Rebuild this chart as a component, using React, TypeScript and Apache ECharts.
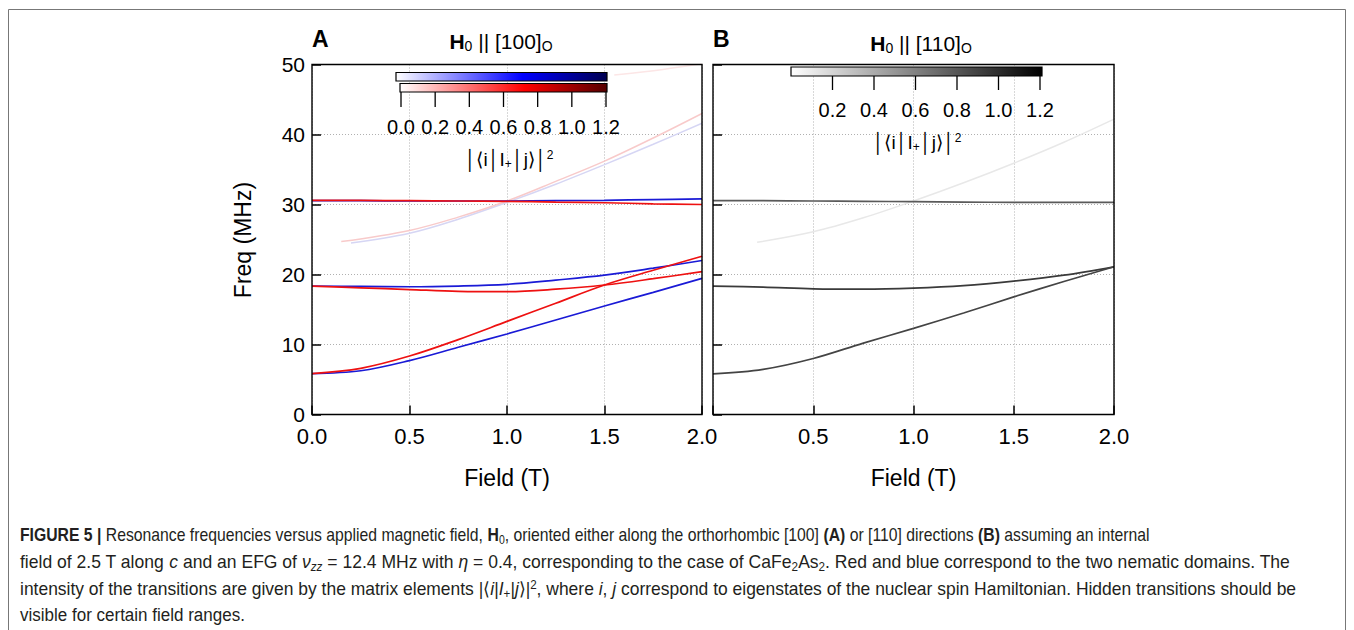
import React, { useEffect, useRef } from 'react';
import * as echarts from 'echarts';

const FONT = "'Liberation Sans', Arial, Helvetica, sans-serif";
const CAP_FONT = "'Liberation Sans Narrow', 'Liberation Sans', Arial, sans-serif";

// ---------- data ----------
const fieldT = [0, 0.25, 0.5, 0.75, 1.0, 1.25, 1.5, 1.75, 2.0];
// Panel A: H0 || [100]
const aBlueTop = [30.55, 30.55, 30.5, 30.5, 30.5, 30.55, 30.6, 30.7, 30.8];
const aRedTop = [30.6, 30.58, 30.55, 30.5, 30.45, 30.35, 30.25, 30.1, 30.0];
const aBlueMid = [18.35, 18.3, 18.25, 18.35, 18.6, 19.2, 19.9, 20.9, 22.0];
const aRedMid = [18.35, 18.1, 17.85, 17.6, 17.55, 17.9, 18.5, 19.4, 20.4];
const aBlueLow = [5.85, 6.25, 7.7, 9.6, 11.5, 13.5, 15.5, 17.45, 19.45];
const aRedLow = [5.85, 6.6, 8.35, 10.7, 13.3, 15.9, 18.5, 20.6, 22.6];
const aHiddenRedField = [0.15, 0.5, 0.75, 1.0, 1.25, 1.5, 1.75, 2.0];
const aHiddenRed = [24.7, 26.3, 28.2, 30.5, 33.3, 36.2, 39.5, 43.0];
const aHiddenBlueField = [0.2, 0.5, 0.75, 1.0, 1.25, 1.5, 1.75, 2.0];
const aHiddenBlue = [24.5, 25.9, 27.9, 30.3, 32.9, 35.7, 38.6, 41.6];
const aHiddenTopField = [1.55, 1.8, 2.0];
const aHiddenTop = [48.5, 49.3, 50.1];
// Panel B: H0 || [110]
const bTop = [30.55, 30.55, 30.5, 30.45, 30.4, 30.35, 30.3, 30.3, 30.3];
const bMid = [18.35, 18.2, 17.95, 17.9, 18.05, 18.4, 19.05, 19.9, 21.1];
const bLow = [5.8, 6.45, 8.0, 10.2, 12.3, 14.5, 16.8, 19.0, 21.1];
const bHiddenField = [0.22, 0.5, 0.75, 1.0, 1.25, 1.5, 1.75, 2.0];
const bHidden = [24.6, 26.1, 28.1, 30.5, 33.1, 35.9, 38.9, 42.2];

// colour-bar tick labels
const cbTicksA = [0.0, 0.2, 0.4, 0.6, 0.8, 1.0, 1.2];
const cbTicksB = [0.2, 0.4, 0.6, 0.8, 1.0, 1.2];

// caption lines (rich text)
const captionLines = [
  '{b|FIGURE 5 |} Resonance frequencies versus applied magnetic field, {b|H}{sub|0}, oriented either along the orthorhombic [100] {b|(A)} or [110] directions {b|(B)} assuming an internal',
  'field of 2.5 T along {i|c} and an EFG of {i|ν}{isub|zz} = 12.4 MHz with {i|η} = 0.4, corresponding to the case of CaFe{sub|2}As{sub|2}. Red and blue correspond to the two nematic domains. The',
  'intensity of the transitions are given by the matrix elements |⟨{i|i}|{i|I}{sub|+}|{i|j}⟩|{sup|2}, where {i|i}, {i|j} correspond to eigenstates of the nuclear spin Hamiltonian. Hidden transitions should be',
  'visible for certain field ranges.',
];

// ---------- layout ----------
const GA = { left: 312, top: 64.5, width: 390, height: 350 };
const GB = { left: 713, top: 64.5, width: 401, height: 350 };

const pairs = (xs: number[], ys: number[]) => xs.map((x, i) => [x, ys[i]]);

function lineSeries(xs: number[], ys: number[], color: string, width: number, gi: number, z: number) {
  return {
    type: 'line',
    xAxisIndex: gi,
    yAxisIndex: gi,
    data: pairs(xs, ys),
    showSymbol: false,
    symbol: 'none',
    smooth: 0.35,
    clip: true,
    lineStyle: { color, width },
    z,
    silent: true,
  };
}

function xAxis(gi: number, hideZero: boolean) {
  return {
    type: 'value',
    gridIndex: gi,
    min: 0,
    max: 2,
    interval: 0.5,
    axisLine: { show: false },
    axisTick: { show: true, inside: true, length: 9, lineStyle: { color: '#000', width: 1.5 } },
    axisLabel: {
      fontSize: 22,
      color: '#000',
      margin: 11,
      fontFamily: FONT,
      formatter: (v: number) => (hideZero && v === 0 ? '' : v.toFixed(1)),
    },
    splitLine: { show: true, lineStyle: { type: [1, 2], color: '#b0b0b0', width: 1 } },
  };
}

function yAxis(gi: number, showLabels: boolean) {
  return {
    type: 'value',
    gridIndex: gi,
    min: 0,
    max: 50,
    interval: 10,
    axisLine: { show: false },
    axisTick: { show: true, inside: true, length: 9, lineStyle: { color: '#000', width: 1.5 } },
    axisLabel: { show: showLabels, fontSize: 21, color: '#000', margin: 7, fontFamily: FONT },
    splitLine: { show: true, lineStyle: { type: [1, 2], color: '#b0b0b0', width: 1 } },
  };
}

const richBase = (size: number, extra: any = {}) => ({ fontFamily: FONT, fontSize: size, fill: '#000', ...extra });

function colorbarLabelRich(size: number) {
  return {
    n: richBase(size),
    s: richBase(Math.round(size * 0.65), { padding: [9, 0, 0, 0] }),
    p: richBase(Math.round(size * 0.65), { padding: [0, 0, 9, 0] }),
  };
}

function titleRich() {
  return {
    hb: richBase(21, { fontWeight: 'bold' }),
    n: richBase(21),
    s: richBase(14, { padding: [9, 0, 0, 0] }),
  };
}

function buildGraphic() {
  const g: any[] = [];
  // outer figure frame
  g.push({
    type: 'rect', silent: true, z: 0,
    shape: { x: 8.5, y: 9.5, width: 1337, height: 640 },
    style: { fill: 'none', stroke: '#777', lineWidth: 1 },
  });
  // plot frames
  [GA, GB].forEach((G) => {
    g.push({
      type: 'rect', silent: true, z: 100,
      shape: { x: G.left, y: G.top, width: G.width, height: G.height },
      style: { fill: 'none', stroke: '#000', lineWidth: 1.4 },
    });
  });
  // panel letters
  g.push({ type: 'text', x: 312, y: 39, style: { text: 'A', fontFamily: FONT, fontWeight: 'bold', fontSize: 23, fill: '#000', align: 'left', verticalAlign: 'middle' } });
  g.push({ type: 'text', x: 713, y: 39, style: { text: 'B', fontFamily: FONT, fontWeight: 'bold', fontSize: 23, fill: '#000', align: 'left', verticalAlign: 'middle' } });
  // panel titles
  g.push({ type: 'text', x: 501, y: 41, style: { text: '{hb|H}{s|0}{n| || [100]}{s|O}', align: 'center', verticalAlign: 'middle', fontFamily: FONT, fontSize: 21, fill: '#000', rich: titleRich() } });
  g.push({ type: 'text', x: 921, y: 43, style: { text: '{hb|H}{s|0}{n| || [110]}{s|O}', align: 'center', verticalAlign: 'middle', fontFamily: FONT, fontSize: 21, fill: '#000', rich: titleRich() } });

  // axis titles
  g.push({ type: 'text', x: 243, y: 240, rotation: Math.PI / 2, style: { text: 'Freq (MHz)', fontFamily: FONT, fontSize: 23, fill: '#000', align: 'center', verticalAlign: 'middle' } });
  g.push({ type: 'text', x: GA.left + GA.width / 2, y: 478, style: { text: 'Field (T)', fontFamily: FONT, fontSize: 23, fill: '#000', align: 'center', verticalAlign: 'middle' } });
  g.push({ type: 'text', x: GB.left + GB.width / 2, y: 478, style: { text: 'Field (T)', fontFamily: FONT, fontSize: 23, fill: '#000', align: 'center', verticalAlign: 'middle' } });

  // ---- colour bars, panel A ----
  const aX0 = 401, aX1 = 606; // value 0 -> 1.2
  const aScale = (aX1 - aX0) / 1.2;
  g.push({
    type: 'rect', z: 110, silent: true,
    shape: { x: 396, y: 72.5, width: aX1 - 396 + 1, height: 8.5 },
    style: {
      stroke: '#000', lineWidth: 1.2,
      fill: { type: 'linear', x: 0, y: 0, x2: 1, y2: 0, colorStops: [
        { offset: 0, color: '#ffffff' }, { offset: 0.6, color: '#0000ff' }, { offset: 1, color: '#000050' }] },
    },
  });
  g.push({
    type: 'rect', z: 110, silent: true,
    shape: { x: 400, y: 83.5, width: aX1 - 400 + 1, height: 8.5 },
    style: {
      stroke: '#000', lineWidth: 1.2,
      fill: { type: 'linear', x: 0, y: 0, x2: 1, y2: 0, colorStops: [
        { offset: 0, color: '#ffffff' }, { offset: 0.6, color: '#ff0000' }, { offset: 1, color: '#550000' }] },
    },
  });
  cbTicksA.forEach((v) => {
    const x = aX0 + v * aScale;
    g.push({ type: 'line', z: 110, silent: true, shape: { x1: x, y1: 92, x2: x, y2: 107 }, style: { stroke: '#000', lineWidth: 1.3 } });
    g.push({ type: 'text', z: 110, x, y: 127, style: { text: v.toFixed(1), fontFamily: FONT, fontSize: 20, fill: '#000', align: 'center', verticalAlign: 'middle' } });
  });
  g.push({ type: 'text', z: 110, x: 509, y: 159, style: { text: '{n|\u2502\u27E8i\u2502I}{s|+}{n|\u2502j\u27E9\u2502}{p|2}', align: 'center', verticalAlign: 'middle', fontFamily: FONT, fontSize: 19, fill: '#000', rich: colorbarLabelRich(19) } });

  // ---- colour bar, panel B ----
  const bX0 = 791, bX1 = 1040;
  const bScale = (bX1 - bX0) / 1.2;
  g.push({
    type: 'rect', z: 110, silent: true,
    shape: { x: bX0, y: 67, width: bX1 - bX0 + 2, height: 9 },
    style: {
      stroke: '#000', lineWidth: 1.2,
      fill: { type: 'linear', x: 0, y: 0, x2: 1, y2: 0, colorStops: [
        { offset: 0, color: '#ffffff' }, { offset: 0.5, color: '#808080' }, { offset: 1, color: '#000000' }] },
    },
  });
  cbTicksB.forEach((v) => {
    const x = bX0 + v * bScale;
    g.push({ type: 'line', z: 110, silent: true, shape: { x1: x, y1: 76, x2: x, y2: 90 }, style: { stroke: '#000', lineWidth: 1.3 } });
    g.push({ type: 'text', z: 110, x, y: 110, style: { text: v.toFixed(1), fontFamily: FONT, fontSize: 20, fill: '#000', align: 'center', verticalAlign: 'middle' } });
  });
  g.push({ type: 'text', z: 110, x: 917, y: 142, style: { text: '{n|\u2502\u27E8i\u2502I}{s|+}{n|\u2502j\u27E9\u2502}{p|2}', align: 'center', verticalAlign: 'middle', fontFamily: FONT, fontSize: 19, fill: '#000', rich: colorbarLabelRich(19) } });

  // ---- caption ----
  const cs = 18;
  const capFill = '#231f20';
  const capRich = {
    b: { fontFamily: CAP_FONT, fontSize: cs, fontWeight: 'bold', fill: capFill },
    i: { fontFamily: CAP_FONT, fontSize: cs, fontStyle: 'italic', fill: capFill },
    sub: { fontFamily: CAP_FONT, fontSize: 12, fill: capFill, padding: [9, 0, 0, 0] },
    isub: { fontFamily: CAP_FONT, fontSize: 12, fontStyle: 'italic', fill: capFill, padding: [9, 0, 0, 0] },
    sup: { fontFamily: CAP_FONT, fontSize: 12, fill: capFill, padding: [0, 0, 9, 0] },
  };
  const capY = [535, 562, 589, 615];
  const capScale = [0.875, 0.975, 0.97, 0.945];
  captionLines.forEach((t, k) => {
    g.push({
      type: 'text', x: 20, y: capY[k], scaleX: capScale[k],
      style: { text: t, fontFamily: CAP_FONT, fontSize: cs, fill: capFill, align: 'left', verticalAlign: 'middle', rich: capRich },
    });
  });
  return g;
}

export default function App() {
  const ref = useRef<HTMLDivElement>(null);
  useEffect(() => {
    document.body.style.margin = '0';
    if (!ref.current) return;
    const chart = echarts.init(ref.current, undefined, { renderer: 'svg' });
    const RED = '#ee1111';
    const BLUE = '#1a1ad6';
    const option: any = {
      animation: false,
      backgroundColor: '#ffffff',
      textStyle: { fontFamily: FONT },
      grid: [
        { ...GA, containLabel: false, show: false },
        { ...GB, containLabel: false, show: false },
      ],
      xAxis: [xAxis(0, false), xAxis(1, true)],
      yAxis: [yAxis(0, true), yAxis(1, false)],
      series: [
        // panel A hidden transitions
        lineSeries(aHiddenBlueField, aHiddenBlue, '#d6d6f4', 1.5, 0, 2),
        lineSeries(aHiddenRedField, aHiddenRed, '#f8caca', 1.5, 0, 3),
        lineSeries(aHiddenTopField, aHiddenTop, '#fce6e6', 1.5, 0, 3),
        // panel A main transitions
        lineSeries(fieldT, aBlueTop, BLUE, 1.7, 0, 5),
        lineSeries(fieldT, aBlueMid, BLUE, 1.7, 0, 5),
        lineSeries(fieldT, aBlueLow, BLUE, 1.7, 0, 5),
        lineSeries(fieldT, aRedTop, RED, 1.7, 0, 6),
        lineSeries(fieldT, aRedMid, RED, 1.7, 0, 6),
        lineSeries(fieldT, aRedLow, RED, 1.7, 0, 6),
        // panel B
        lineSeries(bHiddenField, bHidden, '#e8e8e8', 1.5, 1, 2),
        lineSeries(fieldT, bTop, '#5a5a5a', 1.7, 1, 5),
        lineSeries(fieldT, bMid, '#3a3a3a', 1.7, 1, 5),
        lineSeries(fieldT, bLow, '#444444', 1.7, 1, 5),
      ],
      graphic: buildGraphic(),
    };
    chart.setOption(option);
    return () => chart.dispose();
  }, []);
  return <div ref={ref} style={{ width: 1354, height: 630 }} />;
}
